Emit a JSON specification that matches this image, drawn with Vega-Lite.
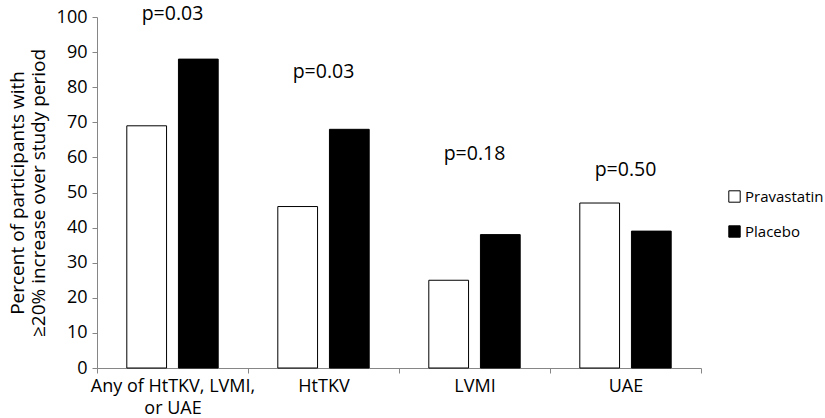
{
  "$schema": "https://vega.github.io/schema/vega-lite/v6.json",
  "width": 604,
  "height": 351,
  "autosize": {"type": "none"},
  "padding": {"left": 97, "top": 17, "right": 124, "bottom": 50},
  "background": "white",
  "config": {
    "view": {"stroke": null},
    "font": "Open Sans",
    "axis": {"domainColor": "#868686", "tickColor": "#868686", "labelColor": "#000000", "titleColor": "#000000", "grid": false, "labelFont": "Open Sans", "titleFont": "Open Sans"},
    "axisX": {"labelAngle": 0, "labelFontSize": 18, "labelPadding": 4, "tickBand": "extent", "tickSize": 5, "labelLineHeight": 22},
    "axisY": {"tickSize": 5, "labelFontSize": 18, "labelPadding": 5, "titleFontSize": 19, "titleFontWeight": "normal", "titlePadding": 8, "titleLineHeight": 21, "labelOverlap": false}
  },
  "datasets": {
    "bars": [
      {"outcome": "Any of HtTKV, LVMI, or UAE", "group": "Pravastatin", "percent": 69},
      {"outcome": "Any of HtTKV, LVMI, or UAE", "group": "Placebo", "percent": 88},
      {"outcome": "HtTKV", "group": "Pravastatin", "percent": 46},
      {"outcome": "HtTKV", "group": "Placebo", "percent": 68},
      {"outcome": "LVMI", "group": "Pravastatin", "percent": 25},
      {"outcome": "LVMI", "group": "Placebo", "percent": 38},
      {"outcome": "UAE", "group": "Pravastatin", "percent": 47},
      {"outcome": "UAE", "group": "Placebo", "percent": 39}
    ],
    "pvalues": [
      {"outcome": "Any of HtTKV, LVMI, or UAE", "label": "p=0.03", "percent": 100.8},
      {"outcome": "HtTKV", "label": "p=0.03", "percent": 84.3},
      {"outcome": "LVMI", "label": "p=0.18", "percent": 61},
      {"outcome": "UAE", "label": "p=0.50", "percent": 56.4}
    ]
  },
  "layer": [
    {
      "data": {"name": "bars"},
      "mark": {"type": "bar", "stroke": "#000000", "strokeWidth": 1},
      "encoding": {
        "x": {
          "field": "outcome", "type": "nominal", "sort": null,
          "scale": {"paddingInner": 0, "paddingOuter": 0},
          "axis": {
            "title": null,
            "labelExpr": "datum.value == 'Any of HtTKV, LVMI, or UAE' ? ['Any of HtTKV, LVMI,', 'or UAE'] : datum.value"
          }
        },
        "xOffset": {
          "field": "group", "type": "nominal", "sort": ["Pravastatin", "Placebo"],
          "scale": {"paddingInner": 0.23, "paddingOuter": 0.577}
        },
        "y": {
          "field": "percent", "type": "quantitative",
          "scale": {"domain": [0, 100]},
          "axis": {
            "values": [0, 10, 20, 30, 40, 50, 60, 70, 80, 90, 100],
            "title": ["Percent of participants with", "≥20% increase over study period"]
          }
        },
        "fill": {
          "field": "group", "type": "nominal",
          "scale": {"domain": ["Pravastatin", "Placebo"], "range": ["#ffffff", "#000000"]},
          "legend": {
            "title": null, "orient": "none", "legendX": 630, "legendY": 172,
            "symbolType": "square", "symbolSize": 130, "symbolStrokeColor": "#000000", "symbolStrokeWidth": 1,
            "labelFontSize": 15, "labelFont": "Open Sans", "labelColor": "#000000", "rowPadding": 18, "labelOffset": 3
          }
        }
      }
    },
    {
      "data": {"name": "pvalues"},
      "mark": {"type": "text", "fontSize": 19.5, "font": "Open Sans", "color": "#000000", "baseline": "middle"},
      "encoding": {
        "x": {
          "field": "outcome", "type": "nominal", "sort": null,
          "axis": {
            "title": null,
            "labelExpr": "datum.value == 'Any of HtTKV, LVMI, or UAE' ? ['Any of HtTKV, LVMI,', 'or UAE'] : datum.value"
          }
        },
        "y": {
          "field": "percent", "type": "quantitative",
          "axis": {
            "values": [0, 10, 20, 30, 40, 50, 60, 70, 80, 90, 100],
            "title": ["Percent of participants with", "≥20% increase over study period"]
          }
        },
        "text": {"field": "label"}
      }
    }
  ]
}
